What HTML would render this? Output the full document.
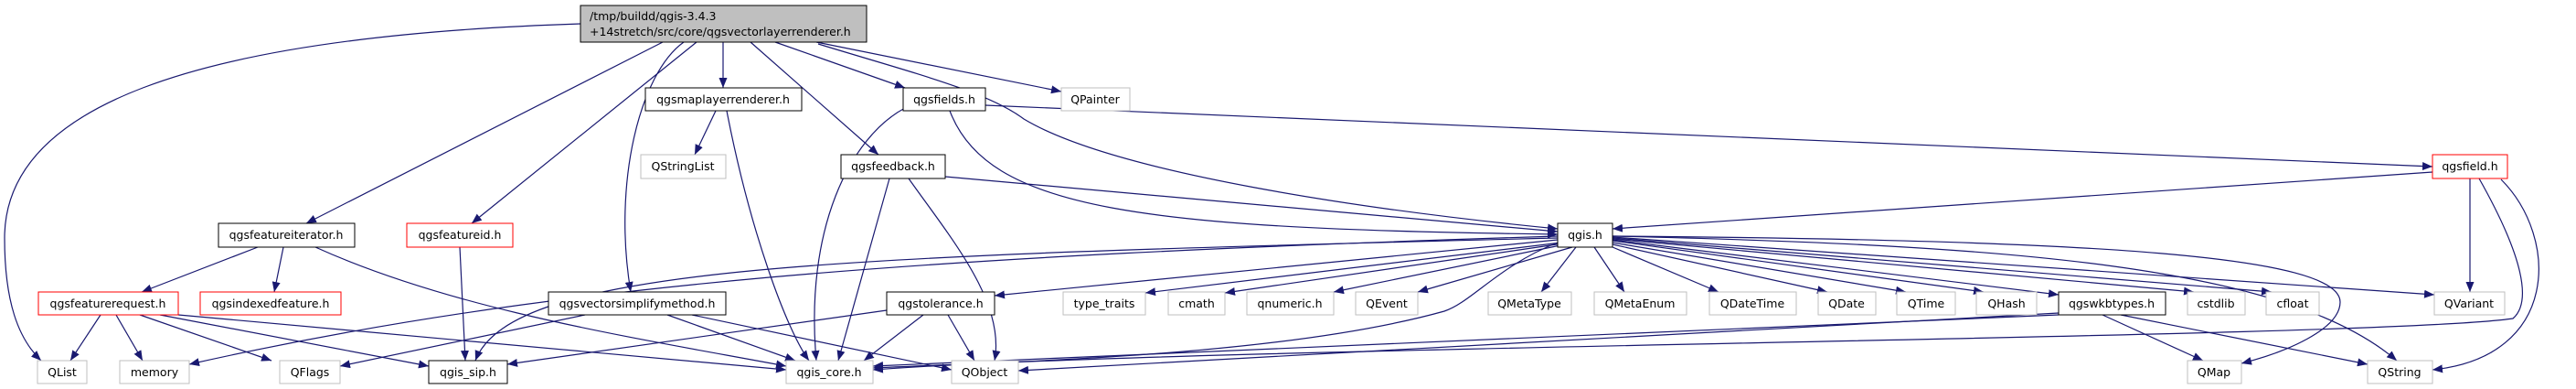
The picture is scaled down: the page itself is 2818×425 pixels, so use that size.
<!DOCTYPE html>
<html><head><meta charset="utf-8"><style>
html,body{margin:0;padding:0;background:#fff;}
svg{display:block;}
text{font-family:"DejaVu Sans","Liberation Sans",sans-serif;font-size:12.5px;fill:#000;}
.e{fill:none;stroke:#191970;stroke-width:1.2;marker-end:url(#a);}
.g{fill:#fff;stroke:#bfbfbf;}
.b{fill:#fff;stroke:#000;}
.r{fill:#fff;stroke:#ff0000;}
</style></head><body>
<svg width="2818" height="425" viewBox="0 0 2818 425">
<defs><marker id="a" markerUnits="userSpaceOnUse" markerWidth="12" markerHeight="10" refX="11" refY="4.5" orient="auto"><path d="M0,0 L11,4.5 L0,9 z" fill="#191970"/></marker></defs>
<g>
<path class="e" d="M635,26 C200,40 5,120 5,260 C5,330 20,370 45,394"/>
<path class="e" d="M725,46 L335,244"/>
<path class="e" d="M762,46 L516,244"/>
<path class="e" d="M748,46 C700,80 670,200 690,319"/>
<path class="e" d="M791,46 L791,96"/>
<path class="e" d="M821,46 L961,169"/>
<path class="e" d="M848,46 L990,96"/>
<path class="e" d="M893,46 L1161,100"/>
<path class="e" d="M895,48 C1000,80 1080,100 1120,130 C1220,190 1500,230 1704,250"/>
<path class="e" d="M783,121 L760,169"/>
<path class="e" d="M795,121 C820,250 860,360 885,394"/>
<path class="e" d="M990,118 C930,150 880,250 893,394"/>
<path class="e" d="M1039,121 C1080,230 1250,250 1704,256"/>
<path class="e" d="M1078,115 L2661,182"/>
<path class="e" d="M1034,193 L1704,253"/>
<path class="e" d="M973,195 L917,394"/>
<path class="e" d="M994,195 C1040,260 1100,330 1088,394"/>
<path class="e" d="M2661,188 L1764,250"/>
<path class="e" d="M2702,195 L2702,319"/>
<path class="e" d="M2712,195 C2760,280 2770,330 2749,348 C2600,370 1300,378 955,404"/>
<path class="e" d="M2736,196 C2800,260 2800,390 2661,404"/>
<path class="e" d="M282,270 L155,319"/>
<path class="e" d="M310,270 L300,319"/>
<path class="e" d="M345,270 C500,340 700,370 860,400"/>
<path class="e" d="M503,270 L509,394"/>
<path class="e" d="M110,344 L77,394"/>
<path class="e" d="M127,344 L156,394"/>
<path class="e" d="M153,344 L297,394"/>
<path class="e" d="M175,344 L469,400"/>
<path class="e" d="M195,344 L860,404"/>
<path class="e" d="M640,344 L372,400"/>
<path class="e" d="M730,344 L870,394"/>
<path class="e" d="M757,344 L1041,404"/>
<path class="e" d="M1704,258 C1000,280 600,310 207,398"/>
<path class="e" d="M1704,260 C900,280 560,290 520,394"/>
<path class="e" d="M1704,262 L1088,323"/>
<path class="e" d="M1708,265 L1253,320"/>
<path class="e" d="M1710,266 L1340,320"/>
<path class="e" d="M1712,267 L1459,319"/>
<path class="e" d="M1720,270 L1551,319"/>
<path class="e" d="M1724,270 L1686,319"/>
<path class="e" d="M1744,270 L1777,319"/>
<path class="e" d="M1764,270 L1880,319"/>
<path class="e" d="M1764,267 L1999,319"/>
<path class="e" d="M1764,265 L2085,319"/>
<path class="e" d="M1764,263 L2170,319"/>
<path class="e" d="M1764,262 L2252,322"/>
<path class="e" d="M1764,261 L2400,319"/>
<path class="e" d="M1764,260 L2485,319"/>
<path class="e" d="M1764,259 L2663,322"/>
<path class="e" d="M1764,258 C2200,268 2500,290 2622,394"/>
<path class="e" d="M1764,258 C2300,262 2560,280 2560,330 C2560,360 2500,385 2452,397"/>
<path class="e" d="M1704,265 C1640,290 1610,330 1580,340 C1400,390 1100,395 955,402"/>
<path class="e" d="M970,339 L555,398"/>
<path class="e" d="M1010,344 L945,394"/>
<path class="e" d="M1037,344 L1066,394"/>
<path class="e" d="M2252,342 L1114,405"/>
<path class="e" d="M2252,344 L955,400"/>
<path class="e" d="M2300,344 L2410,394"/>
<path class="e" d="M2320,344 L2590,398"/>
</g>
<g text-anchor="middle">
<rect x="635" y="6" width="313" height="40" fill="#bfbfbf" stroke="#000"/>
<text x="645" y="22" text-anchor="start">/tmp/buildd/qgis-3.4.3</text>
<text x="645" y="39" text-anchor="start">+14stretch/src/core/qgsvectorlayerrenderer.h</text>

<rect class="b" x="706" y="96" width="171" height="25"/><text x="791" y="113">qgsmaplayerrenderer.h</text>
<rect class="b" x="988" y="96" width="90" height="25"/><text x="1033" y="113">qgsfields.h</text>
<rect class="g" x="1161" y="96" width="75" height="25"/><text x="1198" y="113">QPainter</text>

<rect class="g" x="701" y="169" width="93" height="26"/><text x="747" y="186">QStringList</text>
<rect class="b" x="920" y="169" width="114" height="26"/><text x="977" y="186">qgsfeedback.h</text>
<rect class="r" x="2661" y="169" width="82" height="26"/><text x="2702" y="186">qgsfield.h</text>

<rect class="b" x="239" y="244" width="149" height="26"/><text x="313" y="261">qgsfeatureiterator.h</text>
<rect class="r" x="445" y="244" width="116" height="26"/><text x="503" y="261">qgsfeatureid.h</text>
<rect class="b" x="1704" y="244" width="60" height="26"/><text x="1734" y="261">qgis.h</text>

<rect class="r" x="42" y="319" width="153" height="25"/><text x="118" y="336">qgsfeaturerequest.h</text>
<rect class="r" x="219" y="319" width="154" height="25"/><text x="296" y="336">qgsindexedfeature.h</text>
<rect class="b" x="600" y="319" width="194" height="25"/><text x="697" y="336">qgsvectorsimplifymethod.h</text>
<rect class="b" x="970" y="319" width="118" height="25"/><text x="1029" y="336">qgstolerance.h</text>
<rect class="g" x="1163" y="319" width="90" height="25"/><text x="1208" y="336">type_traits</text>
<rect class="g" x="1278" y="319" width="62" height="25"/><text x="1309" y="336">cmath</text>
<rect class="g" x="1364" y="319" width="95" height="25"/><text x="1411" y="336">qnumeric.h</text>
<rect class="g" x="1483" y="319" width="68" height="25"/><text x="1517" y="336">QEvent</text>
<rect class="g" x="1628" y="319" width="91" height="25"/><text x="1673" y="336">QMetaType</text>
<rect class="g" x="1744" y="319" width="101" height="25"/><text x="1794" y="336">QMetaEnum</text>
<rect class="g" x="1870" y="319" width="95" height="25"/><text x="1917" y="336">QDateTime</text>
<rect class="g" x="1989" y="319" width="63" height="25"/><text x="2020" y="336">QDate</text>
<rect class="g" x="2075" y="319" width="64" height="25"/><text x="2107" y="336">QTime</text>
<rect class="g" x="2162" y="319" width="66" height="25"/><text x="2195" y="336">QHash</text>
<rect class="b" x="2252" y="319" width="117" height="25"/><text x="2310" y="336">qgswkbtypes.h</text>
<rect class="g" x="2393" y="319" width="63" height="25"/><text x="2424" y="336">cstdlib</text>
<rect class="g" x="2479" y="319" width="58" height="25"/><text x="2508" y="336">cfloat</text>
<rect class="g" x="2663" y="319" width="77" height="25"/><text x="2701" y="336">QVariant</text>

<rect class="g" x="41" y="394" width="54" height="25"/><text x="68" y="411">QList</text>
<rect class="g" x="131" y="394" width="76" height="25"/><text x="169" y="411">memory</text>
<rect class="g" x="306" y="394" width="66" height="25"/><text x="339" y="411">QFlags</text>
<rect class="b" x="469" y="394" width="86" height="25"/><text x="512" y="411">qgis_sip.h</text>
<rect class="g" x="860" y="394" width="95" height="25"/><text x="907" y="411">qgis_core.h</text>
<rect class="g" x="1041" y="394" width="73" height="25"/><text x="1077" y="411">QObject</text>
<rect class="g" x="2393" y="394" width="59" height="25"/><text x="2422" y="411">QMap</text>
<rect class="g" x="2590" y="394" width="71" height="25"/><text x="2625" y="411">QString</text>
</g>
</svg>
</body></html>
